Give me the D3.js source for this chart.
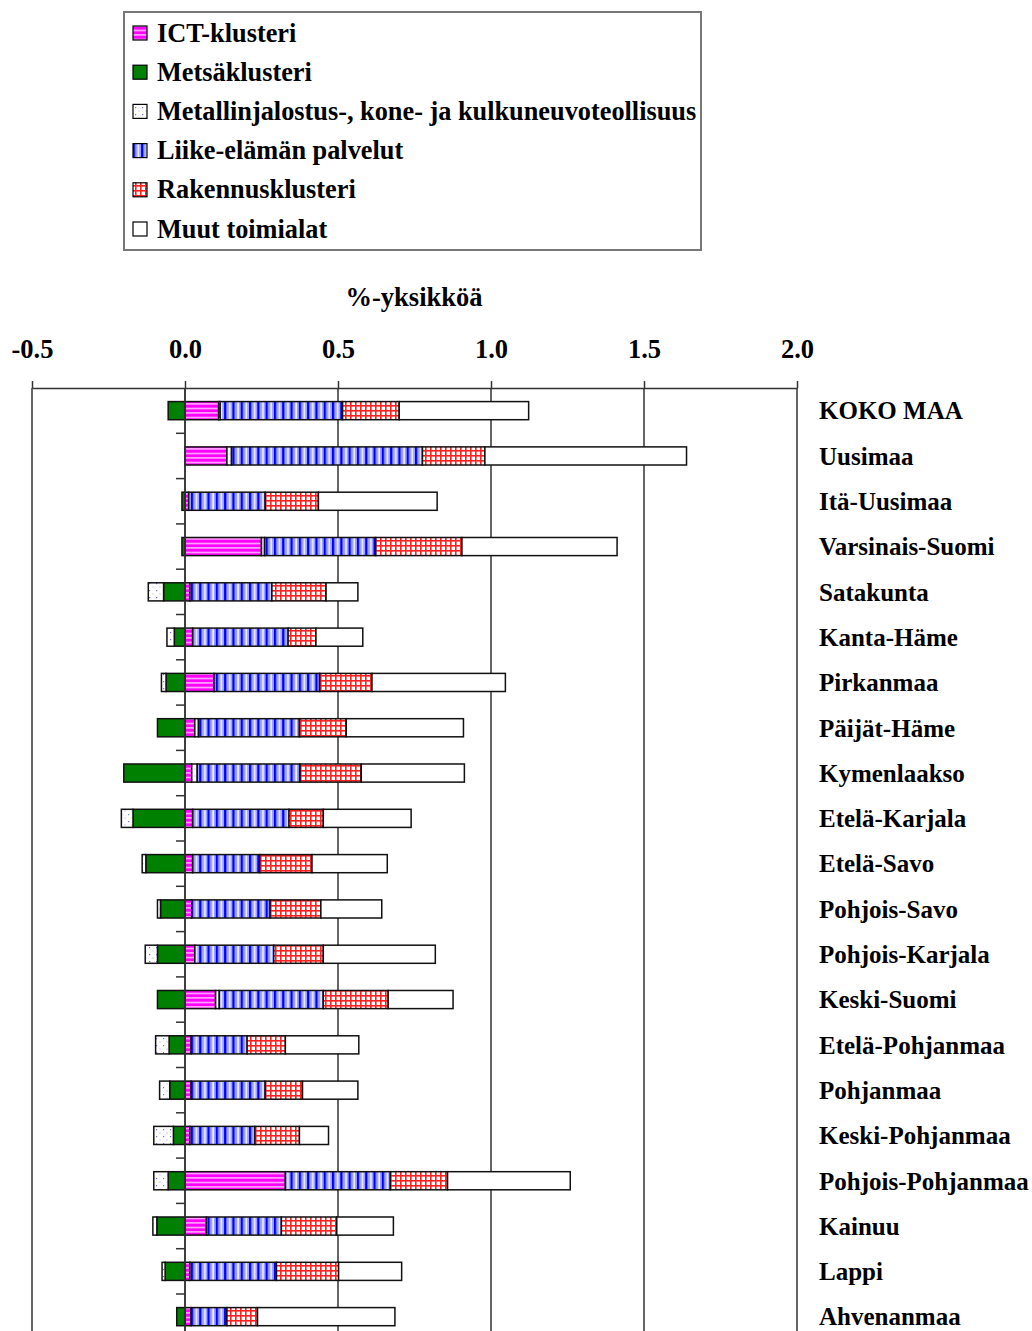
<!DOCTYPE html>
<html>
<head>
<meta charset="utf-8">
<script src="https://cdn.jsdelivr.net/npm/d3@7"></script>
<style>
  html, body { margin: 0; padding: 0; background: #fff; }
  svg { display: block; }
  text { font-family: "Liberation Serif", "Times New Roman", serif; font-weight: bold; fill: #000; }
</style>
</head>
<body>
<svg id="chart" width="1032" height="1331"></svg>
<script>
// ---------- DATA ----------
const categories = ["KOKO MAA","Uusimaa","Itä-Uusimaa","Varsinais-Suomi","Satakunta","Kanta-Häme",
  "Pirkanmaa","Päijät-Häme","Kymenlaakso","Etelä-Karjala","Etelä-Savo","Pohjois-Savo",
  "Pohjois-Karjala","Keski-Suomi","Etelä-Pohjanmaa","Pohjanmaa","Keski-Pohjanmaa",
  "Pohjois-Pohjanmaa","Kainuu","Lappi","Ahvenanmaa"];

const seriesNames = ["ICT-klusteri","Metsäklusteri","Metallinjalostus-, kone- ja kulkuneuvoteollisuus",
  "Liike-elämän palvelut","Rakennusklusteri","Muut toimialat"];

const ict      = [0.110,0.137,0.012,0.250,0.016,0.025,0.095,0.032,0.022,0.025,0.025,0.022,0.032,0.100,0.020,0.020,0.016,0.328,0.070,0.016,0.020];
const metsa    = [-0.055,0.000,-0.010,-0.010,-0.070,-0.035,-0.062,-0.090,-0.200,-0.170,-0.128,-0.080,-0.090,-0.090,-0.052,-0.050,-0.038,-0.055,-0.092,-0.065,-0.027];
const metalli  = [0.005,0.015,0.000,0.010,-0.050,-0.024,-0.015,0.012,0.018,-0.038,-0.012,-0.010,-0.040,0.012,-0.044,-0.033,-0.064,-0.047,-0.013,-0.010,0.000];
const liike    = [0.400,0.624,0.250,0.363,0.268,0.312,0.345,0.330,0.336,0.315,0.219,0.256,0.258,0.340,0.183,0.242,0.212,0.343,0.245,0.283,0.117];
const rakennus = [0.185,0.204,0.174,0.282,0.177,0.091,0.171,0.153,0.200,0.112,0.171,0.166,0.162,0.212,0.125,0.122,0.146,0.187,0.181,0.203,0.100];
const muut     = [0.423,0.659,0.388,0.507,0.104,0.153,0.436,0.383,0.337,0.287,0.246,0.199,0.366,0.212,0.240,0.181,0.095,0.401,0.185,0.206,0.449];

const tickValues = [-0.5, 0.0, 0.5, 1.0, 1.5, 2.0];
const tickLabels = ["-0.5","0.0","0.5","1.0","1.5","2.0"];
const axisTitle = "%-yksikköä";

// ---------- BUILD ----------
const keys = ["ict","metsa","metalli","liike","rakennus","muut"];
const seriesArrays = [ict, metsa, metalli, liike, rakennus, muut];
const table = categories.map((c, i) => {
  const row = { cat: c };
  keys.forEach((k, j) => row[k] = seriesArrays[j][i]);
  return row;
});

const svg = d3.select("#chart");
const defs = svg.append("defs");

// patterns
(function makePatterns() {
  let p = defs.append("pattern").attr("id","p-ict").attr("patternUnits","userSpaceOnUse")
    .attr("width",4).attr("height",4.5);
  p.append("rect").attr("width",4).attr("height",4.5).attr("fill","#ff00ff");
  p.append("rect").attr("y",2.8).attr("width",4).attr("height",1.3).attr("fill","#ffd0ff");

  p = defs.append("pattern").attr("id","p-metsa").attr("patternUnits","userSpaceOnUse")
    .attr("width",4).attr("height",4);
  p.append("rect").attr("width",4).attr("height",4).attr("fill","#008000");

  p = defs.append("pattern").attr("id","p-metalli").attr("patternUnits","userSpaceOnUse")
    .attr("width",7).attr("height",7);
  p.append("rect").attr("width",7).attr("height",7).attr("fill","#ffffff");
  p.append("rect").attr("x",2).attr("y",2).attr("width",1.2).attr("height",1.2).attr("fill","#7070e0");
  p.append("rect").attr("x",5.5).attr("y",5.5).attr("width",1).attr("height",1).attr("fill","#a0a0f0");

  p = defs.append("pattern").attr("id","p-liike").attr("patternUnits","userSpaceOnUse")
    .attr("width",8.3).attr("height",4);
  p.append("rect").attr("width",8.3).attr("height",4).attr("fill","#9ca2ff");
  p.append("rect").attr("x",0).attr("width",2.2).attr("height",4).attr("fill","#0000ff");
  p.append("rect").attr("x",5).attr("width",1.3).attr("height",4).attr("fill","#ffffff");

  p = defs.append("pattern").attr("id","p-rakennus").attr("patternUnits","userSpaceOnUse")
    .attr("width",5).attr("height",5);
  p.append("rect").attr("width",5).attr("height",5).attr("fill","#ffffff");
  p.append("rect").attr("x",0).attr("width",1.6).attr("height",5).attr("fill","#ff2020");
  p.append("rect").attr("y",0).attr("width",5).attr("height",1.6).attr("fill","#ff2020");

  p = defs.append("pattern").attr("id","p-muut").attr("patternUnits","userSpaceOnUse")
    .attr("width",4).attr("height",4);
  p.append("rect").attr("width",4).attr("height",4).attr("fill","#ffffff");
})();

const fills = d3.scaleOrdinal().domain(keys).range(keys.map(k => `url(#p-${k})`));

// scales
const axisY = 388;
const step = 45.3;
const x = d3.scaleLinear().domain([-0.5, 2.0]).range([32, 797]);
const y = d3.scaleBand().domain(categories).range([axisY, axisY + step * categories.length]).paddingInner(0).paddingOuter(0);
const bottomY = axisY + step * categories.length;
const barH = y.bandwidth() * 0.4;

// legend
const legend = svg.append("g");
legend.append("rect").attr("x",124).attr("y",12).attr("width",577).attr("height",238)
  .attr("fill","#fff").attr("stroke","#777").attr("stroke-width",2);
const legY = d3.scaleLinear().domain([0, 5]).range([33, 229]);
seriesNames.forEach((name, i) => {
  const cy = legY(i);
  legend.append("rect").attr("x",133).attr("y",cy - 7).attr("width",14).attr("height",14)
    .attr("fill", fills(keys[i])).attr("stroke","#000").attr("stroke-width",1.2);
  legend.append("text").attr("x",157).attr("y",cy + 8.5).attr("font-size",26.3).text(name);
});

// axis title
svg.append("text").attr("x",414).attr("y",306).attr("text-anchor","middle")
  .attr("font-size",26.5).text(axisTitle);

// gridlines
svg.append("g").selectAll("line").data(tickValues).join("line")
  .attr("x1", d => x(d)).attr("x2", d => x(d))
  .attr("y1", axisY).attr("y2", bottomY)
  .attr("stroke","#333").attr("stroke-width",1.5);

// top value axis
const xAxis = d3.axisTop(x).tickValues(tickValues).tickSizeInner(7).tickSizeOuter(0).tickPadding(23)
  .tickFormat((d, i) => tickLabels[i]);
const gx = svg.append("g").attr("transform",`translate(0,${axisY})`).call(xAxis);
gx.select(".domain").attr("stroke","#333").attr("stroke-width",1.5);
gx.selectAll(".tick line").attr("stroke","#333").attr("stroke-width",1.5);
gx.attr("font-family",null).attr("font-size",null);
gx.selectAll(".tick text").attr("font-size",26.5);

// category ticks at zero line (band boundaries)
svg.append("g").selectAll("line").data(categories).join("line")
  .attr("x1", x(0) - 9).attr("x2", x(0))
  .attr("y1", d => y(d) + y.step()).attr("y2", d => y(d) + y.step())
  .attr("stroke","#333").attr("stroke-width",1.5);

// stacked bars
const stacked = d3.stack().keys(keys).offset(d3.stackOffsetDiverging)(table);
const gBars = svg.append("g");
stacked.forEach(layer => {
  gBars.append("g").selectAll("rect")
    .data(layer.filter(d => Math.abs(d[1] - d[0]) > 1e-9))
    .join("rect")
    .attr("x", d => x(Math.min(d[0], d[1])))
    .attr("width", d => Math.abs(x(d[1]) - x(d[0])))
    .attr("y", d => y(d.data.cat) + (y.bandwidth() - barH) / 2)
    .attr("height", barH)
    .attr("fill", fills(layer.key))
    .attr("stroke","#111").attr("stroke-width",1.5);
});

// zero line on top
svg.append("line").attr("x1", x(0)).attr("x2", x(0)).attr("y1", axisY).attr("y2", bottomY)
  .attr("stroke","#333").attr("stroke-width",1.5);

// category labels on the right
const yAxis = d3.axisRight(y).tickSize(0).tickPadding(0);
const gy = svg.append("g").attr("transform","translate(819,0)").call(yAxis);
gy.select(".domain").remove();
gy.attr("font-family",null).attr("font-size",null);
gy.selectAll(".tick text").attr("font-size",25).attr("dy","0.35em");
</script>
</body>
</html>
